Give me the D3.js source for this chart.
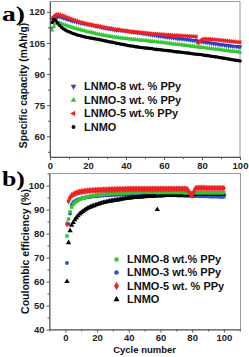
<!DOCTYPE html>
<html>
<head>
<meta charset="utf-8">
<script src="https://cdn.jsdelivr.net/npm/d3@7/dist/d3.min.js"></script>
<style>
body { margin: 0; background: #fff; }
text { font-family: "Liberation Sans", Arial, sans-serif; font-weight: bold; }
</style>
</head>
<body>
<svg id="chart" width="249" height="357"></svg>
<script>
// cycle numbers, shared by both panels
var cycles = d3.range(1, 101);

// panel a: specific capacity (mAh/g)
var capLNMO8 = [112.1,115.4,117.2,117.7,117.6,117.4,117.1,116.8,116.5,116.2,
  115.9,115.6,115.4,115.1,114.9,114.7,114.5,114.3,114.1,113.9,
  113.8,113.6,113.4,113.2,113.0,112.8,112.6,112.4,112.2,112.0,
  111.9,111.7,111.6,111.4,111.3,111.2,111.1,111.0,110.9,110.8,
  110.7,110.6,110.4,110.3,110.2,110.0,109.9,109.8,109.6,109.5,
  109.3,109.2,109.0,108.9,108.7,108.6,108.4,108.3,108.2,108.0,
  107.9,107.8,107.7,107.6,107.5,107.4,107.2,107.1,107.0,106.9,
  106.8,106.7,106.6,106.4,106.3,106.2,106.1,105.9,105.8,105.6,
  105.5,105.3,105.2,105.0,104.9,104.8,104.6,104.5,104.3,104.2,
  104.1,103.9,103.8,103.7,103.6,103.5,103.4,103.3,103.2,103.1];
var capLNMO3 = [111.2,112.9,114.2,114.8,114.6,114.3,113.9,113.6,113.3,113.0,
  112.7,112.4,112.1,111.9,111.6,111.4,111.1,110.9,110.6,110.4,
  110.2,110.0,109.8,109.5,109.3,109.1,108.9,108.8,108.6,108.4,
  108.3,108.1,108.0,107.8,107.7,107.6,107.4,107.3,107.2,107.1,
  107.0,106.9,106.8,106.7,106.6,106.5,106.4,106.3,106.2,106.1,
  106.0,105.9,105.8,105.7,105.6,105.5,105.4,105.3,105.2,105.1,
  105.0,104.9,104.8,104.6,104.5,104.4,104.3,104.2,104.1,104.0,
  103.9,103.7,103.6,103.5,103.4,103.3,103.1,103.0,102.9,102.8,
  102.7,102.6,102.4,102.3,102.2,102.1,102.0,101.9,101.8,101.7,
  101.5,101.4,101.3,101.2,101.1,101.0,100.9,100.8,100.7,100.5];
var capLNMO5 = [116.8,117.8,118.6,118.8,118.6,118.3,118.0,117.7,117.3,117.0,
  116.6,116.3,115.9,115.6,115.3,115.0,114.8,114.5,114.3,114.1,
  113.9,113.7,113.5,113.3,113.2,113.0,112.8,112.6,112.5,112.3,
  112.1,112.0,111.8,111.6,111.5,111.4,111.2,111.1,110.9,110.8,
  110.6,110.5,110.4,110.3,110.2,110.2,110.1,110.0,109.9,109.8,
  109.7,109.6,109.5,109.4,109.4,109.3,109.2,109.1,109.1,109.0,
  108.9,108.9,108.8,108.8,108.7,108.6,108.6,108.5,108.5,108.4,
  108.4,108.3,108.3,108.2,108.2,108.1,108.0,104.9,105.8,106.8,
  106.9,106.9,106.8,106.8,106.7,106.7,106.6,106.5,106.4,106.3,
  106.2,106.1,106.0,105.9,105.8,105.7,105.6,105.5,105.4,105.3];
var capLNMO = [114.9,116.3,115.8,114.6,113.5,112.6,111.9,111.3,110.8,110.4,
  110.0,109.6,109.3,109.0,108.7,108.5,108.2,108.0,107.8,107.6,
  107.4,107.3,107.1,106.9,106.8,106.6,106.4,106.2,106.0,105.8,
  105.6,105.5,105.3,105.1,104.9,104.7,104.5,104.4,104.2,104.0,
  103.8,103.6,103.5,103.4,103.2,103.1,102.9,102.8,102.7,102.6,
  102.5,102.4,102.3,102.2,102.0,101.9,101.8,101.7,101.6,101.5,
  101.4,101.3,101.2,101.1,100.9,100.8,100.7,100.6,100.5,100.4,
  100.3,100.2,100.1,99.9,99.8,99.7,99.6,99.5,99.4,99.3,
  99.1,99.0,98.9,98.7,98.6,98.5,98.3,98.2,98.0,97.9,
  97.7,97.6,97.4,97.3,97.1,96.9,96.8,96.6,96.5,96.3];

// panel b: coulombic efficiency (%)
var ceLNMO8 = [79.0,86.0,89.0,91.0,92.2,92.9,93.4,93.8,94.2,94.5,
  94.7,94.9,95.1,95.3,95.4,95.6,95.7,95.8,95.9,96.0,
  96.1,96.2,96.3,96.3,96.4,96.5,96.5,96.6,96.6,96.7,
  96.7,96.8,96.8,96.8,96.9,96.9,96.9,97.0,97.0,97.0,
  97.0,97.1,97.1,97.1,97.1,97.1,97.1,97.2,97.2,97.2,
  97.2,97.2,97.2,97.2,97.2,97.2,97.2,97.1,97.1,97.1,
  97.1,97.1,97.1,97.1,97.1,97.1,97.1,97.1,97.1,97.1,
  97.1,97.1,97.1,97.1,97.0,97.0,97.0,97.0,97.0,97.0,
  97.0,97.0,97.0,97.0,97.0,97.0,97.0,97.0,97.0,97.0,
  97.0,97.0,97.0,97.0,97.0,97.0,97.0,97.0,97.0,97.0];
var ceLNMO3 = [67.7,84.0,88.3,92.0,93.0,93.5,93.9,94.2,94.4,94.6,
  94.8,94.9,95.0,95.1,95.2,95.3,95.4,95.5,95.5,95.6,
  95.7,95.7,95.8,95.8,95.9,95.9,96.0,96.0,96.0,96.1,
  96.1,96.1,96.2,96.2,96.2,96.3,96.3,96.3,96.3,96.4,
  96.4,96.4,96.4,96.4,96.4,96.4,96.4,96.4,96.4,96.3,
  96.3,96.3,96.3,96.3,96.2,96.2,96.2,96.2,96.1,96.1,
  96.1,96.1,96.0,96.0,96.0,96.0,95.9,95.9,95.9,95.9,
  95.8,95.8,95.8,95.8,95.7,95.7,95.7,95.7,95.7,95.6,
  95.6,95.6,95.6,95.6,95.5,95.5,95.5,95.5,95.5,95.5,
  95.4,95.4,95.4,95.4,95.4,95.4,95.3,95.3,95.3,95.3];
var ceLNMO5 = [84.0,93.5,95.0,95.8,96.3,96.6,96.9,97.1,97.3,97.4,
  97.5,97.6,97.7,97.8,97.8,97.9,97.9,98.0,98.0,98.0,
  98.1,98.1,98.1,98.2,98.2,98.2,98.2,98.3,98.3,98.3,
  98.3,98.3,98.4,98.4,98.4,98.4,98.4,98.4,98.5,98.5,
  98.5,98.5,98.5,98.5,98.5,98.5,98.5,98.5,98.5,98.5,
  98.5,98.5,98.5,98.5,98.5,98.6,98.6,98.6,98.6,98.6,
  98.6,98.6,98.6,98.6,98.6,98.6,98.6,98.6,98.6,98.6,
  98.6,98.6,98.6,98.6,98.6,98.5,98.3,97.4,96.4,95.8,
  97.3,98.7,99.0,99.0,99.0,99.0,99.0,99.0,98.9,98.9,
  98.9,98.9,98.9,98.9,98.9,98.9,98.9,98.9,98.9,98.9];
var ceLNMO = [60.0,76.2,81.2,83.4,84.6,85.7,86.6,87.4,88.1,88.7,
  89.2,89.7,90.1,90.5,90.8,91.1,91.4,91.6,91.9,92.1,
  92.3,92.5,92.7,92.9,93.0,93.2,93.3,93.5,93.6,93.7,
  93.8,93.9,94.0,94.1,94.3,94.4,94.5,94.6,94.7,94.8,
  94.8,94.9,95.0,95.0,95.1,95.1,95.2,95.2,95.3,95.3,
  95.4,95.4,95.4,95.5,95.5,95.5,95.6,90.0,95.6,95.7,
  95.7,95.7,95.8,95.8,95.8,95.9,95.9,95.9,96.0,96.0,
  96.0,96.0,96.1,96.1,96.1,96.1,96.2,96.2,96.2,96.2,
  96.2,96.3,96.3,96.3,96.3,96.3,96.3,96.4,96.4,96.4,
  96.4,96.4,96.4,96.4,96.4,96.5,96.5,96.5,96.5,96.5];

// axis ticks
var xTicksA = [0, 20, 40, 60, 80, 100], xMinorA = [10, 30, 50, 70, 90];
var yTicksA = [60, 75, 90, 105, 120], yMinorA = [52.5, 67.5, 82.5, 97.5, 112.5];
var xTicksB = [0, 20, 40, 60, 80, 100], xMinorB = [-10, 10, 30, 50, 70, 90, 110];
var yTicksB = [40, 50, 60, 70, 80, 90, 100], yMinorB = [45, 55, 65, 75, 85, 95, 105];

var svg = d3.select("#chart");

var xA = d3.scaleLinear().domain([0, 100]).range([50, 240]);
var yA = d3.scaleLinear().domain([50, 125]).range([157, 1.5]);
var xB = d3.scaleLinear().domain([-10, 110.5]).range([49.5, 240.5]);
var yB = d3.scaleLinear().domain([40, 105]).range([329.5, 173.5]);

function frame(x, y) {
  var x0 = x.range()[0], x1 = x.range()[1], y0 = y.range()[1], y1 = y.range()[0];
  svg.append("rect")
    .attr("x", x0).attr("y", y0)
    .attr("width", x1 - x0).attr("height", y1 - y0)
    .attr("fill", "none").attr("stroke", "#9a9a9a").attr("stroke-width", 1);
}

function axes(x, y, xt, xm, yt, ym) {
  var b = y.range()[0], l = x.range()[0];
  svg.append("g").attr("transform", "translate(0," + b + ")")
    .call(d3.axisBottom(x).tickValues(xt).tickSize(3).tickPadding(2).tickSizeOuter(0));
  svg.append("g").attr("transform", "translate(0," + b + ")")
    .call(d3.axisBottom(x).tickValues(xm).tickSize(2).tickFormat("").tickSizeOuter(0))
    .select(".domain").remove();
  svg.append("g").attr("transform", "translate(" + l + ",0)")
    .call(d3.axisLeft(y).tickValues(yt).tickSize(3).tickPadding(2).tickSizeOuter(0));
  svg.append("g").attr("transform", "translate(" + l + ",0)")
    .call(d3.axisLeft(y).tickValues(ym).tickSize(2).tickFormat("").tickSizeOuter(0))
    .select(".domain").remove();
  svg.selectAll(".domain").attr("stroke", "#555");
  svg.selectAll(".tick line").attr("stroke", "#555");
  svg.selectAll(".tick text")
    .attr("fill", "#222")
    .style("font-size", "9.5px")
    .style("font-family", "'Liberation Sans', Arial, sans-serif")
    .style("font-weight", "bold");
}

function series(x, y, vals, shape, size, rot, color) {
  svg.append("g").selectAll("path")
    .data(vals)
    .enter().append("path")
    .attr("d", d3.symbol().type(shape).size(size))
    .attr("transform", function(d, i) {
      return "translate(" + x(cycles[i]) + "," + y(d) + ") rotate(" + rot + ")";
    })
    .attr("fill", color);
}

function legend(items, lx, tx, ys) {
  items.forEach(function(it, i) {
    svg.append("path")
      .attr("d", d3.symbol().type(it.shape).size(it.size))
      .attr("transform", "translate(" + lx + "," + ys[i] + ") rotate(" + it.rot + ")")
      .attr("fill", it.color);
    svg.append("text")
      .attr("x", tx).attr("y", ys[i])
      .attr("dy", "0.36em")
      .style("font-size", "11px")
      .attr("fill", "#111")
      .text(it.name);
  });
}

var blue = "#2f3fc2", green = "#33c633", red = "#ee2222", black = "#000";

// ---- panel a ----
frame(xA, yA);
series(xA, yA, capLNMO8, d3.symbolTriangle, 10, 180, blue);
series(xA, yA, capLNMO3, d3.symbolTriangle, 10, 0, green);
series(xA, yA, capLNMO5, d3.symbolTriangle, 10, -90, red);
series(xA, yA, capLNMO, d3.symbolCircle, 10, 0, black);
axes(xA, yA, xTicksA, xMinorA, yTicksA, yMinorA);

legend([
  {name: "LNMO-8 wt. % PPy", shape: d3.symbolTriangle, size: 14, rot: 180, color: blue},
  {name: "LNMO-3 wt. % PPy", shape: d3.symbolTriangle, size: 14, rot: 0, color: green},
  {name: "LNMO-5 wt.% PPy", shape: d3.symbolTriangle, size: 14, rot: -90, color: red},
  {name: "LNMO", shape: d3.symbolCircle, size: 12, rot: 0, color: black}
], 73.5, 84, [86.5, 100, 113.5, 127]);

svg.append("text")
  .attr("transform", "translate(23.5," + yA(84.5) + ") rotate(-90)")
  .attr("text-anchor", "middle")
  .attr("dy", "0.35em")
  .style("font-size", "10.3px")
  .attr("fill", "#111")
  .text("Specific capacity (mAh/g)");

svg.append("text")
  .attr("x", 2).attr("y", 21)
  .style("font-family", "'Liberation Serif', 'Times New Roman', serif")
  .style("font-size", "21px")
  .attr("textLength", 23).attr("lengthAdjust", "spacingAndGlyphs")
  .text("a)");

// ---- panel b ----
frame(xB, yB);
series(xB, yB, ceLNMO3, d3.symbolCircle, 12, 0, "#2f4fd0");
series(xB, yB, ceLNMO, d3.symbolTriangle, 12, 0, black);
series(xB, yB, ceLNMO8, d3.symbolSquare, 12, 0, green);
series(xB, yB, ceLNMO5, d3.symbolDiamond, 14, 0, red);
axes(xB, yB, xTicksB, xMinorB, yTicksB, yMinorB);

legend([
  {name: "LNMO-8 wt.% PPy", shape: d3.symbolSquare, size: 16, rot: 0, color: green},
  {name: "LNMO-3 wt.% PPy", shape: d3.symbolCircle, size: 16, rot: 0, color: "#2f4fd0"},
  {name: "LNMO-5 wt. % PPy", shape: d3.symbolDiamond, size: 20, rot: 0, color: red},
  {name: "LNMO", shape: d3.symbolTriangle, size: 16, rot: 0, color: black}
], 116.5, 127, [259.5, 272.5, 286, 299.5]);

svg.append("text")
  .attr("transform", "translate(25," + yB(72.5) + ") rotate(-90)")
  .attr("text-anchor", "middle")
  .attr("dy", "0.35em")
  .style("font-size", "10.5px")
  .attr("fill", "#111")
  .text("Coulombic efficiency (%)");

svg.append("text")
  .attr("x", xB(50)).attr("y", 353)
  .attr("text-anchor", "middle")
  .style("font-size", "9.5px")
  .attr("fill", "#111")
  .text("Cycle number");

svg.append("text")
  .attr("x", 2).attr("y", 186)
  .style("font-family", "'Liberation Serif', 'Times New Roman', serif")
  .style("font-size", "21px")
  .attr("textLength", 23).attr("lengthAdjust", "spacingAndGlyphs")
  .text("b)");
</script>
</body>
</html>
